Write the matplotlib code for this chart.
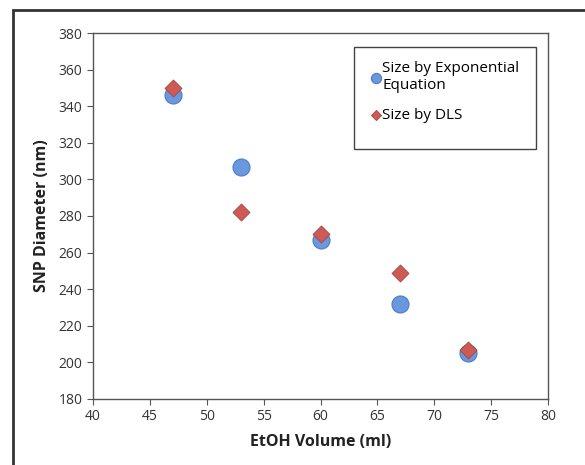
import matplotlib.pyplot as plt
from matplotlib.patches import Rectangle

plt.rcParams['font.family'] = ['Open Sans', 'DejaVu Sans']

etoh_volume = [47, 53, 60, 67, 73]
size_exponential = [346, 307, 267, 232, 205]
size_dls = [350, 282, 270, 249, 207]

fig = plt.figure(figsize=(5.85, 4.65), dpi=100)
ax = fig.add_axes([0.159, 0.142, 0.778, 0.787])

ax.scatter(etoh_volume, size_exponential, s=150, marker='o', color='#6a98de',
           edgecolors='#4e7cc2', linewidths=0.8, zorder=3, label='Size by Exponential\nEquation')
ax.scatter(etoh_volume, size_dls, s=75, marker='D', color='#cc5a55',
           edgecolors='#a84440', linewidths=0.6, zorder=4, label='Size by DLS')

ax.set_xlim(40, 80)
ax.set_ylim(180, 380)
ax.set_xticks(range(40, 81, 5))
ax.set_yticks(range(180, 381, 20))
for s in ax.spines.values():
    s.set_color('#555555')
    s.set_linewidth(1.0)
ax.tick_params(direction='out', length=4, color='#555555', labelsize=10,
               labelcolor='#333333')
ax.set_xlabel('EtOH Volume (ml)', fontsize=11.5, fontweight='bold', color='#222222', labelpad=7)
ax.set_ylabel('SNP Diameter (nm)', fontsize=11.5, fontweight='bold', color='#222222', labelpad=6)

# legend box
fig.patches.append(Rectangle((0.605, 0.680), 0.311, 0.219, transform=fig.transFigure,
                             facecolor='white', edgecolor='#444444', linewidth=1.0, zorder=5))
leg = fig.legend(loc='upper left', bbox_to_anchor=(0.623, 0.883), frameon=False,
                 fontsize=11, handletextpad=0.05, handlelength=0.7, labelspacing=1.0,
                 borderaxespad=0, markerscale=0.6)
leg.set_zorder(6)

# outer border
fig.patches.append(Rectangle((0.022, -0.05), 1.1, 1.028, transform=fig.transFigure,
                             facecolor='none', edgecolor='#333333', linewidth=2.0,
                             clip_on=False))

fig.savefig('out.png', dpi=100)
plt.close(fig)
